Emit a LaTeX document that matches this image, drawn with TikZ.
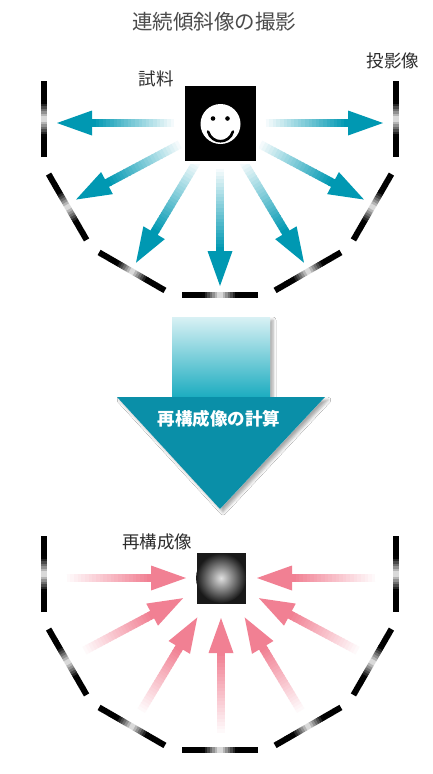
\documentclass[tikz,border=0pt]{standalone}
\usepackage{fontspec}
\newfontfamily\jp{Noto Sans CJK JP}
\usetikzlibrary{calc,shadows.blur}

\definecolor{tealA}{RGB}{0,152,178}
\definecolor{tealB}{RGB}{0,162,184}
\definecolor{tealC}{RGB}{10,143,168}
\definecolor{pinkA}{RGB}{241,128,147}
\definecolor{titlegray}{RGB}{75,75,75}
\definecolor{labelgray}{RGB}{45,45,45}

% shaft of the large arrow: white at the top, teal towards the head
\pgfdeclareverticalshading{bigshaft}{100bp}{color(0bp)=(tealB);color(18bp)=(tealB);color(85bp)=(white);color(100bp)=(white)}

% arrow whose shaft fades from white at the start to full colour at the head
% #1 centre, #2 angle, #3 start radius, #4 head-base radius, #5 tip radius, #6 colour
\newcommand\fadearrow[6]{%
  \foreach \k in {0,...,23}{%
    \pgfmathsetmacro\fa{#3+(#4-#3)*\k/24}%
    \pgfmathsetmacro\fz{#3+(#4-#3)*(\k+1.3)/24}%
    \pgfmathsetmacro\fq{100*\k/23}%
    \draw[line width=8.5pt, #6!\fq!white] ($(#1)+(#2:\fa)$) -- ($(#1)+(#2:\fz)$);
  }%
  \fill[#6] ($(#1)+(#2:#4)+(#2+90:12.5)$) -- ($(#1)+(#2:#5)$) -- ($(#1)+(#2:#4)+(#2-90:12.5)$) -- cycle;
}

\begin{document}
\begin{tikzpicture}[x=1pt,y=-1pt,
  lbl/.style={font=\jp\fontsize{17.5}{20}\selectfont, text=labelgray, inner sep=0pt},
  ttl/.style={font=\jp\fontsize{20.5}{24}\selectfont, text=titlegray, inner sep=0pt}]
\useasboundingbox (0,0) rectangle (433,774);
\fill[white] (0,0) rectangle (433,774);

% centres of the two detector arcs and of the sample / reconstruction
\coordinate (top) at (220,119);
\coordinate (bot) at (220,574);
\coordinate (src) at (220,123);
\coordinate (dst) at (221,578);

% detector segments on a half circle, dark with a bright gap in the middle
\foreach \cc in {top,bot}{
  \foreach \p in {0,30,...,180}{
    \foreach \k in {0,...,29}{
      \pgfmathsetmacro\sa{-38+76*\k/30}
      \pgfmathsetmacro\sb{min(38,\sa+76/30+0.4)}
      \pgfmathsetmacro\dk{min(100,8+abs((\k+0.5)/30-0.5)*420)}
      \draw[line width=6pt, black!\dk] ($(\cc)+(\p:176)+(\p+90:\sa)$) -- ($(\cc)+(\p:176)+(\p+90:\sb)$);
    }
  }
}

% projection arrows from the sample
\foreach \p in {0,28,59,90,121,152,180}{
  \fadearrow{src}{\p}{42}{128}{163}{tealA}
}

% back-projection arrows into the reconstruction
\foreach \p/\t in {0/36,28/43,59/46,90/40,121/46,152/43,180/35}{
  \pgfmathsetmacro\hb{\t+35}
  \fadearrow{dst}{\p}{158}{\hb}{\t}{pinkA}
}

% sample with a smiling face
\node[draw=white, line width=3pt, fill=black, minimum width=74pt, minimum height=78pt, inner sep=0pt] (sample) at (src) {};
\fill[white] (220.5,124) circle[radius=20];
\fill[black] (213,118.5) circle[radius=2.3];
\fill[black] (227.5,118.5) circle[radius=2.3];
\draw[line width=2.6pt, line cap=round] (208,131.5) .. controls (212,144.5) and (229,144.5) .. (233,131.5);

% reconstructed image: bright blurred centre, dark rim
\node[draw=white, line width=3pt, fill=black!90, minimum width=52pt, minimum height=54pt, inner sep=0pt] (recon) at (dst) {};
\shade[inner color=black!12, outer color=black!90] (dst) circle[radius=25];

% large arrow between the two stages
\path[fill=white, blur shadow={shadow xshift=3pt, shadow yshift=-3pt, shadow blur radius=3pt, shadow opacity=35}]
  (172,317) -- (270,317) -- (270,397) -- (325,397) -- (220,509) -- (117,397) -- (172,397) -- cycle;
\shade[shading=bigshaft] (172,317) rectangle (270,397.5);
\fill[tealC] (117,397) -- (325,397) -- (220,509) -- cycle;
\node[font=\jp\bfseries\fontsize{17.5}{20}\selectfont, text=white, inner sep=0pt] (step) at (219,419) {再構成像の計算};

% labels
\node[ttl] (title) at (214,22) {連続傾斜像の撮影};
\node[lbl] (lsample) at (156,79) {試料};
\node[lbl] (lproj) at (393,61) {投影像};
\node[lbl] (lrecon) at (157,542) {再構成像};
\end{tikzpicture}
\end{document}
